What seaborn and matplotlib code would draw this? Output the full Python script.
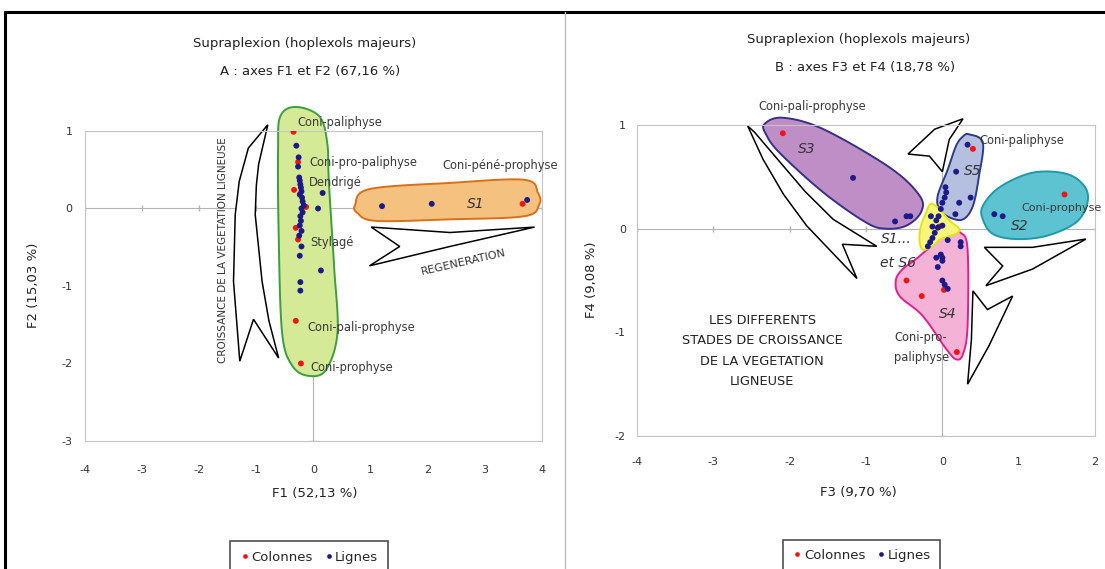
import numpy as np
import pandas as pd
import matplotlib
matplotlib.use('Agg')
import matplotlib.pyplot as plt
from matplotlib.patches import Polygon
from matplotlib.lines import Line2D
import seaborn as sns

# ---- data ----
# panel A : F1 x F2
a_col_x = [-0.35, -0.27, -0.34, -0.13, -0.31, -0.27, -0.31, -0.22, 3.66]
a_col_y = [0.99, 0.60, 0.24, 0.02, -0.25, -0.40, -1.45, -2.00, 0.06]
a_lig_x = [-0.30, -0.26, -0.27, -0.25, -0.24, -0.23, -0.22, -0.21, -0.24, -0.20,
           -0.19, -0.17, -0.21, -0.19, -0.23, -0.22, -0.24, -0.21, -0.25,
           0.16, 0.08, -0.21, -0.24, 0.13, -0.23, -0.23, 1.20, 2.07, 3.74]
a_lig_y = [0.81, 0.66, 0.54, 0.40, 0.36, 0.31, 0.27, 0.22, 0.18, 0.14,
           0.09, 0.04, 0.00, -0.05, -0.10, -0.16, -0.22, -0.29, -0.35,
           0.20, 0.00, -0.49, -0.61, -0.80, -0.95, -1.06, 0.03, 0.06, 0.11]

# panel B : F3 x F4
b_col_x = [-2.09, 0.40, 1.60, -0.04, -0.47, -0.27, 0.02, 0.19]
b_col_y = [0.92, 0.77, 0.33, 0.02, -0.50, -0.65, -0.59, -1.19]
b_lig_x = [-1.17, -0.62, -0.47, -0.42,
           0.33, 0.18, 0.37, 0.22, 0.17, 0.05, 0.03, 0.00, 0.04,
           0.68, 0.79,
           -0.02, -0.05, -0.15, -0.08, -0.13, -0.06, 0.00, -0.10, -0.13, -0.16, -0.19,
           0.07, 0.24, 0.24, -0.08, -0.02, 0.00, 0.00, -0.06, 0.00, 0.03, 0.07]
b_lig_y = [0.49, 0.07, 0.12, 0.12,
           0.81, 0.55, 0.30, 0.25, 0.14, 0.35, 0.30, 0.25, 0.40,
           0.14, 0.12,
           0.19, 0.12, 0.12, 0.08, 0.02, 0.01, 0.03, -0.04, -0.09, -0.13, -0.17,
           -0.11, -0.13, -0.17, -0.28, -0.25, -0.28, -0.31, -0.37, -0.50, -0.54, -0.58]

RED = '#f01414'
NAVY = '#1c1a88'


def frame(cx, cy, lx, ly):
    return pd.DataFrame({
        'x': cx + lx,
        'y': cy + ly,
        'type': ['Colonnes'] * len(cx) + ['Lignes'] * len(lx),
    })


def smooth_closed(pts, n=24):
    # closed Catmull-Rom curve through the outline points
    p = np.asarray(pts, dtype=float)
    m = len(p)
    t = np.linspace(0, 1, n, endpoint=False)[:, None]
    out = []
    for i in range(m):
        p0, p1, p2, p3 = p[i - 1], p[i], p[(i + 1) % m], p[(i + 2) % m]
        out.append(0.5 * (2 * p1 + (-p0 + p2) * t + (2 * p0 - 5 * p1 + 4 * p2 - p3) * t ** 2
                          + (-p0 + 3 * p1 - 3 * p2 + p3) * t ** 3))
    return np.vstack(out)


def blob(ax, pts, fc, ec):
    ax.add_patch(Polygon(smooth_closed(pts), closed=True, fc=fc, ec=ec, lw=1.4,
                         zorder=1, clip_on=False))


def arrow(ax, pts):
    ax.add_patch(Polygon(pts, closed=True, fc='white', ec='black', lw=1.1,
                         joinstyle='miter', zorder=2, clip_on=False))


sns.set_style('white')
plt.rcParams['font.family'] = ['DejaVu Sans']
plt.rcParams['axes.unicode_minus'] = False

fig = plt.figure(figsize=(11.05, 5.69), dpi=100)
axA = fig.add_axes([0.0769, 0.2250, 0.4136, 0.5448])
axB = fig.add_axes([0.5765, 0.2337, 0.4145, 0.5466])

palette = {'Colonnes': RED, 'Lignes': NAVY}
for ax, df in [(axA, frame(a_col_x, a_col_y, a_lig_x, a_lig_y)),
               (axB, frame(b_col_x, b_col_y, b_lig_x, b_lig_y))]:
    sns.scatterplot(data=df, x='x', y='y', hue='type', palette=palette, s=18,
                    linewidth=0, ax=ax, zorder=3)

# ---- axes styling (excel like) ----
def style(ax, xlim, ylim, xpad, ypad):
    ax.set_xlim(*xlim)
    ax.set_ylim(*ylim)
    xt = list(range(xlim[0], xlim[1] + 1))
    yt = list(range(ylim[0], ylim[1] + 1))
    ax.set_xticks(xt)
    ax.set_yticks(yt)
    ax.tick_params(length=0, labelsize=8, labelcolor='#333333')
    ax.tick_params(axis='x', pad=xpad)
    ax.tick_params(axis='y', pad=ypad)
    for s in ax.spines.values():
        s.set_color('#c4c4c4')
        s.set_linewidth(0.8)
    ax.axhline(0, color='#b4b4b4', lw=0.8, zorder=0)
    ax.axvline(0, color='#b4b4b4', lw=0.8, zorder=0)
    ax.plot(xt, [0] * len(xt), ls='none', marker='|', ms=5, color='#b4b4b4', zorder=0)
    ax.plot([0] * len(yt), yt, ls='none', marker='_', ms=5, color='#b4b4b4', zorder=0)
    ax.set_facecolor('white')


style(axA, (-4, 4), (-3, 1), 17, 9)
style(axB, (-4, 2), (-2, 1), 15, 8)

axA.set_xlabel('F1 (52,13 %)', fontsize=9.5, color='#222222')
axA.set_ylabel('F2 (15,03 %)', fontsize=9.5, color='#222222')
axA.xaxis.set_label_coords(0.503, -0.148)
axA.yaxis.set_label_coords(-0.098, 0.503)
axB.set_xlabel('F3 (9,70 %)', fontsize=9.5, color='#222222')
axB.set_ylabel('F4 (9,08 %)', fontsize=9.5, color='#222222')
axB.xaxis.set_label_coords(0.4825, -0.161)
axB.yaxis.set_label_coords(-0.085, 0.502)

# legends
for ax, yy in [(axA, -0.303), (axB, -0.312)]:
    sns.move_legend(ax, 'upper center', bbox_to_anchor=(0.49, yy), ncol=2, title=None,
                    frameon=True, fontsize=9.5, markerscale=0.8, handletextpad=0.1,
                    columnspacing=0.8, borderpad=0.7, handlelength=0.8)
    leg = ax.get_legend()
    leg.get_frame().set_edgecolor('#222222')
    leg.get_frame().set_linewidth(1.2)
    leg.get_frame().set_boxstyle('square', pad=0)

# ---- panel A decorations ----
blob(axA, [(-0.31, 1.31), (0.10, 1.19), (0.24, 0.85), (0.27, 0.33), (0.36, -0.74),
           (0.42, -1.60), (0.22, -2.08), (-0.08, -2.16), (-0.37, -2.03), (-0.55, -1.60),
           (-0.61, -0.31), (-0.62, 0.76), (-0.58, 1.19)], '#d5ea96', '#3c9e3c')
blob(axA, [(0.73, 0.05), (0.98, 0.25), (2.39, 0.33), (3.69, 0.37), (3.93, 0.20),
           (3.95, 0.05), (3.69, -0.10), (2.39, -0.14), (1.10, -0.16), (0.77, -0.06)],
     '#f4c27e', '#d8701c')
arrow(axA, [(-0.80, 1.08), (-1.14, 0.78), (-1.30, 0.35), (-1.37, -0.08), (-1.40, -0.94),
            (-1.29, -1.97), (-1.05, -1.43), (-0.61, -1.93), (-0.78, -1.45), (-0.90, -0.94),
            (-1.02, -0.08), (-1.00, 0.30), (-0.96, 0.57)])
arrow(axA, [(1.01, -0.24), (2.39, -0.31), (3.87, -0.24), (2.39, -0.49), (0.98, -0.74),
            (1.51, -0.49)])

lab = dict(fontsize=8.3, color='#3a3a3a', zorder=4)
axA.text(-0.29, 1.11, 'Coni-paliphyse', va='center', **lab)
axA.text(-0.08, 0.59, 'Coni-pro-paliphyse', va='center', **lab)
axA.text(-0.08, 0.33, 'Dendrigé', va='center', **lab)
axA.text(2.25, 0.55, 'Coni-péné-prophyse', va='center', **lab)
axA.text(-0.05, -0.44, 'Stylagé', va='center', **lab)
axA.text(-0.11, -1.53, 'Coni-pali-prophyse', va='center', **lab)
axA.text(-0.05, -2.05, 'Coni-prophyse', va='center', **lab)
axA.text(2.84, 0.06, 'S1', ha='center', va='center', fontsize=10, style='italic',
         color='#333333', zorder=4)
axA.text(-1.58, -0.54, 'CROISSANCE DE LA VEGETATION LIGNEUSE', rotation=90,
         ha='center', va='center', fontsize=7.5, color='#333333', zorder=4)
axA.text(2.63, -0.70, 'REGENERATION', rotation=13, ha='center', va='center',
         fontsize=8, color='#333333', zorder=4)

# ---- panel B decorations ----
blob(axB, [(-2.33, 1.01), (-2.09, 1.07), (-1.56, 0.96), (-0.69, 0.59), (-0.30, 0.32),
           (-0.28, 0.16), (-0.47, 0.03), (-0.74, 0.00), (-1.00, 0.06), (-1.56, 0.35),
           (-2.13, 0.73), (-2.31, 0.91)], '#c08ec6', '#35308a')
blob(axB, [(0.35, 0.91), (0.53, 0.83), (0.48, 0.51), (0.40, 0.22), (0.27, 0.09),
           (0.09, 0.11), (-0.04, 0.19), (-0.06, 0.32), (0.07, 0.57), (0.18, 0.80),
           (0.27, 0.89)], '#b5bfe0', '#2c3c8c')
blob(axB, [(0.53, 0.09), (0.53, 0.22), (0.75, 0.40), (1.18, 0.54), (1.62, 0.53),
           (1.86, 0.41), (1.90, 0.25), (1.75, 0.06), (1.36, -0.07), (0.96, -0.10),
           (0.66, -0.05)], '#5ec3d0', '#1f9aa8')
blob(axB, [(0.24, -0.04), (0.33, -0.20), (0.33, -0.94), (0.27, -1.21), (0.18, -1.26),
           (0.05, -1.16), (-0.26, -0.84), (-0.56, -0.65), (-0.61, -0.50), (-0.52, -0.39),
           (-0.34, -0.29), (-0.04, -0.10), (0.09, -0.04)], '#f3b2d6', '#e0208e')
blob(axB, [(-0.15, 0.24), (-0.04, 0.19), (0.09, 0.08), (0.22, 0.00), (0.18, -0.05),
           (-0.02, -0.10), (-0.13, -0.17), (-0.26, -0.20), (-0.30, -0.10), (-0.28, 0.03),
           (-0.21, 0.16)], '#f6f67c', '#e2e21a')

arrow(axB, [(-2.55, 0.99), (-2.35, 0.67), (-2.08, 0.33), (-1.78, 0.03), (-1.12, -0.48),
            (-1.31, -0.15), (-0.86, -0.17), (-1.43, 0.09), (-1.80, 0.36), (-2.09, 0.61),
            (-2.46, 0.93)])
arrow(axB, [(0.27, 1.06), (-0.10, 0.96), (-0.45, 0.72), (-0.17, 0.70), (0.00, 0.55),
            (0.09, 0.86)])
arrow(axB, [(1.88, -0.10), (1.18, -0.18), (0.55, -0.18), (0.79, -0.36), (0.57, -0.55),
            (1.18, -0.39)])
arrow(axB, [(0.33, -1.50), (0.38, -1.07), (0.40, -0.60), (0.59, -0.78), (0.92, -0.65),
            (0.61, -1.13)])

axB.text(-1.71, 1.18, 'Coni-pali-prophyse', ha='center', va='center', **lab)
axB.text(0.48, 0.85, 'Coni-paliphyse', va='center', **lab)
axB.text(1.03, 0.20, 'Coni-prophyse', va='center', fontsize=8, color='#3a3a3a', zorder=4)
axB.text(-0.63, -1.05, 'Coni-pro-', va='center', **lab)
axB.text(-0.63, -1.24, 'paliphyse', va='center', **lab)
it = dict(fontsize=10, style='italic', color='#333333', ha='center', va='center', zorder=4)
axB.text(-1.78, 0.77, 'S3', **it)
axB.text(0.40, 0.56, 'S5', **it)
axB.text(1.01, 0.03, 'S2', **it)
axB.text(0.07, -0.82, 'S4', **it)
axB.text(-0.80, -0.10, 'S1...', fontsize=10, style='italic', color='#333333',
         va='center', zorder=4)
axB.text(-0.82, -0.33, 'et S6', fontsize=10, style='italic', color='#333333',
         va='center', zorder=4)
axB.text(-2.36, -1.18, 'LES DIFFERENTS\nSTADES DE CROISSANCE\nDE LA VEGETATION\nLIGNEUSE',
         ha='center', va='center', fontsize=9.3, color='#222222', linespacing=1.75, zorder=4)

# ---- titles ----
tt = dict(ha='center', va='center', fontsize=9.5, color='#222222')
fig.text(305 / 1105, 1 - 44 / 569, 'Supraplexion (hoplexols majeurs)', **tt)
fig.text(310 / 1105, 1 - 71 / 569, 'A : axes F1 et F2 (67,16 %)', **tt)
fig.text(859 / 1105, 1 - 40 / 569, 'Supraplexion (hoplexols majeurs)', **tt)
fig.text(865 / 1105, 1 - 67 / 569, 'B : axes F3 et F4 (18,78 %)', **tt)

# outer frame and divider
fig.add_artist(Line2D([5 / 1105, 1], [1 - 12 / 569] * 2, color='black', lw=2.2))
fig.add_artist(Line2D([5 / 1105] * 2, [0, 1 - 12 / 569], color='black', lw=2.2))
fig.add_artist(Line2D([565 / 1105] * 2, [0, 1 - 12 / 569], color='#bdbdbd', lw=1.0))

fig.savefig('out.png', dpi=100, facecolor='white')
